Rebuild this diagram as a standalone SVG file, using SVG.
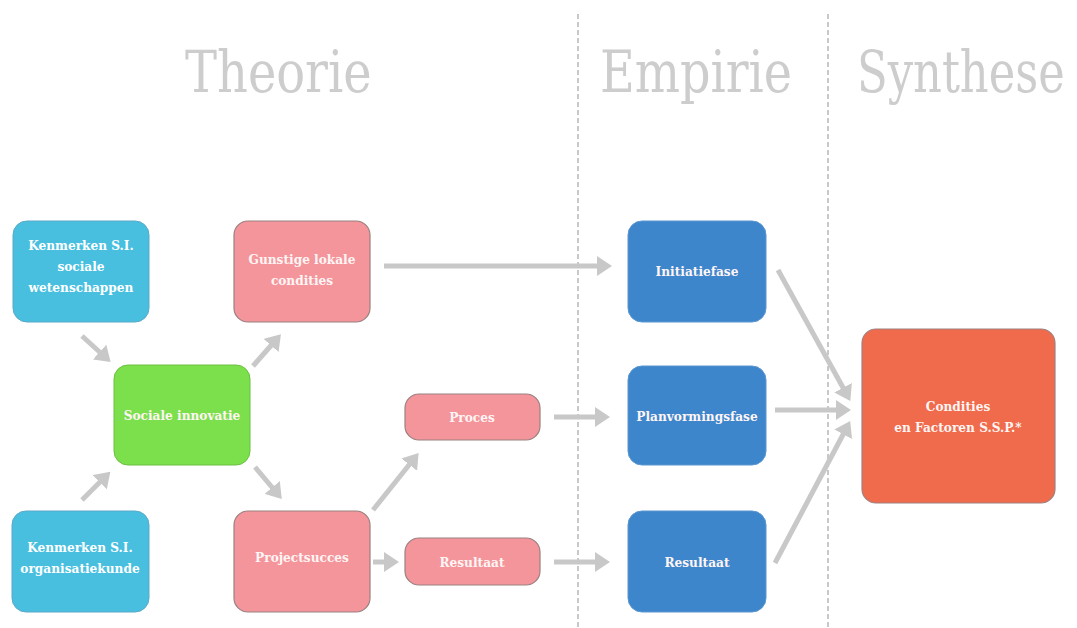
<svg xmlns="http://www.w3.org/2000/svg" width="1077" height="628" viewBox="0 0 1077 628">
<style>
.title{font-family:"DejaVu Serif Condensed","DejaVu Serif","Liberation Serif",serif;font-size:58px;fill:#cdcdcd}
.lbl{font-family:"DejaVu Serif Condensed","Liberation Serif",serif;font-size:13.5px;font-weight:bold;fill:#ffffff;text-anchor:middle}
.lbl2{font-family:"DejaVu Serif Condensed","Liberation Serif",serif;font-size:13.5px;font-weight:600;fill:#fff5f5;text-anchor:middle}
.sep{stroke:#c8c8c8;stroke-width:2;stroke-dasharray:5,3}
.conn{stroke:#c8c8c8;stroke-width:5;fill:none;marker-end:url(#ah)}
.blue{fill:#48bfdf;stroke:#5aa9c8;stroke-width:1}
.pink{fill:#f4959b;stroke:#9a8080;stroke-width:1.2}
.green{fill:#7ce04c;stroke:#6cc040;stroke-width:1}
.dblue{fill:#3e86cb;stroke:#5a96d0;stroke-width:1}
.orange{fill:#f06b4b;stroke:#a08080;stroke-width:1.2}
</style>
<defs>
<marker id="ah" markerWidth="4" markerHeight="4" refX="1.2" refY="2" orient="auto" markerUnits="strokeWidth">
<path d="M0,0 L3,2 L0,4 Z" fill="#c8c8c8"/>
</marker>
</defs>
<rect width="1077" height="628" fill="#ffffff"/>
<g id="titles">
<text class="title" transform="translate(185,92) scale(0.75,1)" x="0" y="0" textLength="249" lengthAdjust="spacingAndGlyphs">Theorie</text>
<text class="title" transform="translate(600,92) scale(0.75,1)" x="0" y="0" textLength="256" lengthAdjust="spacingAndGlyphs">Empirie</text>
<text class="title" transform="translate(857,92) scale(0.75,1)" x="0" y="0" textLength="277" lengthAdjust="spacingAndGlyphs">Synthese</text>
</g>
<g id="separators">
<line class="sep" x1="578" y1="14" x2="578" y2="628"/>
<line class="sep" x1="828" y1="14" x2="828" y2="628"/>
</g>
<g id="connectors">
<line class="conn" x1="82" y1="336" x2="104" y2="356"/>
<line class="conn" x1="82" y1="500" x2="104" y2="478"/>
<line class="conn" x1="253" y1="366" x2="275" y2="341"/>
<line class="conn" x1="255" y1="467" x2="276" y2="492"/>
<line class="conn" x1="384" y1="266" x2="603" y2="266"/>
<line class="conn" x1="373" y1="510" x2="413" y2="460"/>
<line class="conn" x1="373" y1="562" x2="390" y2="562"/>
<line class="conn" x1="554" y1="417" x2="601" y2="417"/>
<line class="conn" x1="554" y1="562" x2="601" y2="562"/>
<line class="conn" x1="778" y1="270" x2="846" y2="393"/>
<line class="conn" x1="775" y1="410" x2="842" y2="410"/>
<line class="conn" x1="775" y1="563" x2="846" y2="429"/>
</g>
<g id="n-kenmerken-sw">
<rect class="blue" x="13" y="221" width="136" height="101" rx="14"/>
<text class="lbl" x="81" y="250">Kenmerken S.I.</text>
<text class="lbl" x="81" y="271">sociale</text>
<text class="lbl" x="81" y="292">wetenschappen</text>
</g>
<g id="n-gunstige">
<rect class="pink" x="234" y="221" width="136" height="101" rx="14"/>
<text class="lbl2" x="302" y="264">Gunstige lokale</text>
<text class="lbl2" x="302" y="285">condities</text>
</g>
<g id="n-sociale-innovatie">
<rect class="green" x="114" y="365" width="136" height="100" rx="14"/>
<text class="lbl2" x="182" y="420">Sociale innovatie</text>
</g>
<g id="n-kenmerken-ok">
<rect class="blue" x="12" y="511" width="137" height="101" rx="14"/>
<text class="lbl" x="80" y="552">Kenmerken S.I.</text>
<text class="lbl" x="80" y="573">organisatiekunde</text>
</g>
<g id="n-projectsucces">
<rect class="pink" x="234" y="511" width="136" height="101" rx="14"/>
<text class="lbl2" x="302" y="562">Projectsucces</text>
</g>
<g id="n-proces">
<rect class="pink" x="405" y="394" width="135" height="46" rx="14"/>
<text class="lbl2" x="472" y="422">Proces</text>
</g>
<g id="n-resultaat-t">
<rect class="pink" x="405" y="538" width="135" height="47" rx="14"/>
<text class="lbl2" x="472" y="567">Resultaat</text>
</g>
<g id="n-initiatiefase">
<rect class="dblue" x="628" y="221" width="138" height="101" rx="14"/>
<text class="lbl2" x="697" y="276">Initiatiefase</text>
</g>
<g id="n-planvormingsfase">
<rect class="dblue" x="628" y="366" width="138" height="99" rx="14"/>
<text class="lbl2" x="697" y="421">Planvormingsfase</text>
</g>
<g id="n-resultaat-e">
<rect class="dblue" x="628" y="511" width="138" height="101" rx="14"/>
<text class="lbl2" x="697" y="567">Resultaat</text>
</g>
<g id="n-condities">
<rect class="orange" x="862" y="329" width="193" height="174" rx="14"/>
<text class="lbl2" x="958" y="411">Condities</text>
<text class="lbl2" x="958" y="432">en Factoren S.S.P.*</text>
</g>
</svg>
